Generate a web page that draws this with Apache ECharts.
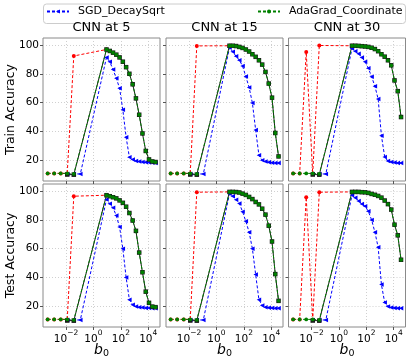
<!DOCTYPE html>
<html><head><meta charset="utf-8">
<script src="https://cdn.jsdelivr.net/npm/echarts@6/dist/echarts.min.js"></script>
<style>html,body{margin:0;padding:0;background:#fff}#c{width:411px;height:362px}</style>
</head><body><div id="c"></div>
<script>
// b0 grid (x values)
const b0 = [0.000457, 0.00137, 0.00412, 0.0123, 0.037, 0.111,
  9, 15.6, 27, 46.8, 81, 140, 243, 421, 729, 1263, 2187, 3788, 6561, 11364, 19683, 34092];
const xTicks = [0.01, 1, 100, 10000];
const yTicks = [20, 40, 60, 80, 100];
const titles = ['CNN at 5', 'CNN at 15', 'CNN at 30'];
const rowNames = ['Train Accuracy', 'Test Accuracy'];
const legendNames = ['SGD_DecaySqrt', 'AdaGrad_Coordinate'];

// ---- Train accuracy ----
const sgd_train5  = [null,null,null,10.4,10.4,10.4, 91.5,88.5,83,77,70,55,36,22,20.5,19.5,19,18.7,18.5,18.3,18.2,18.1];
const ada_train5  = [10.8,10.8,10.8,10.8,10.4,null, 97,96,94.8,93.4,91.5,88.5,84.7,80.1,72.8,63,51.6,38.6,26.4,20.5,19.1,18.7];
const red_train5  = [10.8,10.8,10.8,10.8,92.5,null, 97];
const blk_train5  = [null,null,null,10.0,9.9,null];

const sgd_train15 = [null,null,null,10.4,10.4,10.4, 98.4,95.4,92.3,89.6,85.5,78.2,70.6,59.8,41,23.4,19.9,19,18.6,18.2,18,18];
const ada_train15 = [10.8,10.8,10.8,10.8,10.4,null, 99.6,99.6,99.4,98.8,98.1,97,95.6,93.7,91.9,89.5,86.5,81.4,73.3,63.5,38.9,22.6];
const red_train15 = [10.8,10.8,10.8,10.8,99.5,null, 99.6];
const blk_train15 = [null,null,null,10.0,9.9,null];

const sgd_train30 = [null,null,null,10.4,10.4,10.4, 97.7,95.8,94,91.5,88.5,84,78,71.5,62.5,37,22.2,19.4,18.7,18.3,18,18];
const ada_train30 = [10.8,10.8,10.8,10.8,10.4,null, 99.6,99.6,99.5,99.3,99.1,98.8,98.2,97.3,95.8,93.7,92,89.5,86,75.5,68,50];
const red_train30 = [10.8,10.8,95.3,10.5,99.8,null, 99.6];
const blk_train30 = [null,null,null,10.0,9.9,null];

// ---- Test accuracy ----
const sgd_test5  = [null,null,null,10.4,10.4,10.4, 94.2,91.2,88.4,83,75,60,40,24.5,21,19.8,19.3,19,18.8,18.7,18.6,18.6];
const ada_test5  = [10.8,10.8,10.8,10.8,10.4,null, 97.2,96.5,95.8,95,93.6,91.9,89.2,84.8,79.6,72.4,57.3,43.6,30.1,22.3,19.7,19.3];
const red_test5  = [10.8,10.8,10.8,10.8,96.5,null, 97.2];
const blk_test5  = [null,null,null,10.0,9.9,null];

const sgd_test15 = [null,null,null,10.4,10.4,10.4, 98.2,96.5,94,91.5,85.7,79,71.5,60,42,24.5,20.5,19.3,18.9,18.7,18.6,18.6];
const ada_test15 = [10.8,10.8,10.8,10.8,10.4,null, 99.5,99.5,99.4,99.1,98.3,97.4,96,94.5,92.5,90.8,87.8,83.7,76,65,42.3,23.7];
const red_test15 = [10.8,10.8,10.8,10.8,99.3,null, 99.5];
const blk_test15 = [null,null,null,10.0,9.9,null];

const sgd_test30 = [null,null,null,10.4,10.4,10.4, 97.2,95.5,93.2,91,89.5,86,80,71.5,61,35,22.5,19.7,19,18.8,18.6,18.6];
const ada_test30 = [10.8,10.8,10.8,10.8,10.4,null, 99.5,99.5,99.5,99.3,99.2,98.8,98.1,97.5,96.7,95.5,93.5,91,87.2,76.7,69.3,52.3];
const red_test30 = [10.8,10.8,95.8,10.5,99.3,null, 99.5];
const blk_test30 = [null,null,null,10.0,9.9,null];

const panels = [
  {sgd: sgd_train5,  ada: ada_train5,  red: red_train5,  blk: blk_train5},
  {sgd: sgd_train15, ada: ada_train15, red: red_train15, blk: blk_train15},
  {sgd: sgd_train30, ada: ada_train30, red: red_train30, blk: blk_train30},
  {sgd: sgd_test5,   ada: ada_test5,   red: red_test5,   blk: blk_test5},
  {sgd: sgd_test15,  ada: ada_test15,  red: red_test15,  blk: blk_test15},
  {sgd: sgd_test30,  ada: ada_test30,  red: red_test30,  blk: blk_test30}
];

function pairs(vals, offset) {
  const out = [];
  vals.forEach((v, i) => { if (v != null) out.push([b0[i + (offset || 0)], v]); });
  return out;
}

const FONT = 'DejaVu Sans';
const colLeft = [43, 166, 288.5];
const rowTop = [38, 184];
const W = 117, H = 143;
const spine = '#8a8a8a';

const grids = [], xAxes = [], yAxes = [], series = [];
panels.forEach((p, i) => {
  const r = Math.floor(i / 3), c = i % 3;
  grids.push({left: colLeft[c], top: rowTop[r], width: W, height: H, show: true,
    borderColor: spine, borderWidth: 1, backgroundColor: 'transparent', containLabel: false});
  xAxes.push({
    type: 'log', logBase: 10, gridIndex: i, min: 2.1e-4, max: 7.2e4,
    axisLine: {show: false},
    axisTick: {show: true, length: 3, customValues: xTicks, lineStyle: {color: '#555', width: 1}},
    axisLabel: {show: r === 1, customValues: xTicks, margin: 2, fontFamily: FONT, color: '#000',
      formatter: v => '{b|10}{s|' + String(Math.round(Math.log10(v))).replace('-', '\u2212') + '}',
      rich: {b: {fontSize: 10.5, fontFamily: FONT, color: '#000', verticalAlign: 'bottom', padding: [5, 0, 0, 0]},
             s: {fontSize: 7.5, fontFamily: FONT, color: '#000', verticalAlign: 'top', padding: [0, 0, 4, 0]}}},
    splitLine: {show: true, lineStyle: {type: [1, 2], color: '#c4c4c4', width: 0.8}},
    minorTick: {show: false}
  });
  yAxes.push({
    type: 'value', gridIndex: i, min: 5.5, max: 105,
    axisLine: {show: false},
    axisTick: {show: true, length: 3, customValues: yTicks, lineStyle: {color: '#555', width: 1}},
    axisLabel: {show: c === 0, customValues: yTicks, margin: 4, fontSize: 10.5, fontFamily: FONT, color: '#000'},
    splitLine: {show: true, lineStyle: {type: [1, 2], color: '#c4c4c4', width: 0.8}}
  });
  const common = {xAxisIndex: i, yAxisIndex: i, type: 'line', animation: false, silent: true};
  series.push(Object.assign({}, common, {
    name: 'red', data: pairs(p.red), symbol: 'circle', symbolSize: 4,
    itemStyle: {color: '#ff0000'}, lineStyle: {color: '#ff0000', width: 1, type: [3, 2]}
  }));
  series.push(Object.assign({}, common, {
    name: legendNames[0], data: pairs(p.sgd), symbol: 'triangle', symbolRotate: 90, symbolSize: 4.5,
    itemStyle: {color: '#0000ff'}, lineStyle: {color: '#0000ff', width: 1, type: [3, 2]}
  }));
  series.push(Object.assign({}, common, {
    name: 'black', data: pairs(p.blk).concat(pairs(p.ada.slice(6), 6)), symbol: 'rect', symbolSize: 4.5,
    itemStyle: {color: '#1a1a1a'}, lineStyle: {color: '#1a1a1a', width: 1, type: 'solid'}
  }));
  series.push(Object.assign({}, common, {
    name: legendNames[1], data: pairs(p.ada), symbol: 'circle', symbolSize: 3.8,
    itemStyle: {color: '#008000'}, lineStyle: {color: '#008000', width: 1, type: [3, 2]}
  }));
});

const graphics = [
  {type: 'rect', left: 43, top: 3.5, shape: {width: 362, height: 19.5, r: 3}, z: -1,
   style: {fill: '#fff', stroke: '#cccccc', lineWidth: 1}}
];
rowNames.forEach((t, r) => {
  graphics.push({type: 'text', x: 11, y: rowTop[r] + H / 2, rotation: Math.PI / 2,
    style: {text: t, fontSize: 12.5, fontFamily: FONT, fill: '#000', align: 'center', verticalAlign: 'middle'}});
});
colLeft.forEach(l => {
  graphics.push({type: 'text', x: l + W / 2, y: 351,
    style: {text: '{i|b}{s|0}', align: 'center', verticalAlign: 'middle',
      rich: {i: {fontSize: 14, fontStyle: 'italic', fontFamily: FONT, fill: '#000', verticalAlign: 'top'},
             s: {fontSize: 9.5, fontFamily: FONT, fill: '#000', verticalAlign: 'bottom', padding: [6, 0, 0, 0]}}}});
});

const chart = echarts.init(document.getElementById('c'), null, {renderer: 'canvas'});
chart.setOption({
  animation: false,
  backgroundColor: '#fff',
  title: titles.map((t, c) => ({text: t, left: colLeft[c] + W / 2, top: 21, textAlign: 'center', padding: 0,
    textStyle: {fontSize: 13, fontWeight: 'normal', fontFamily: FONT, color: '#000'}})),
  legend: [
    {data: [legendNames[0]], left: 46, top: 6, itemWidth: 22, itemHeight: 5, padding: 0,
     textStyle: {fontSize: 11, fontFamily: FONT, color: '#000', padding: [0, 0, 0, 4]}},
    {data: [legendNames[1]], left: 257, top: 6, itemWidth: 22, itemHeight: 5, padding: 0,
     textStyle: {fontSize: 11, fontFamily: FONT, color: '#000', padding: [0, 0, 0, 4]}}
  ],
  grid: grids, xAxis: xAxes, yAxis: yAxes, series: series,
  graphic: graphics
});
</script></body></html>
